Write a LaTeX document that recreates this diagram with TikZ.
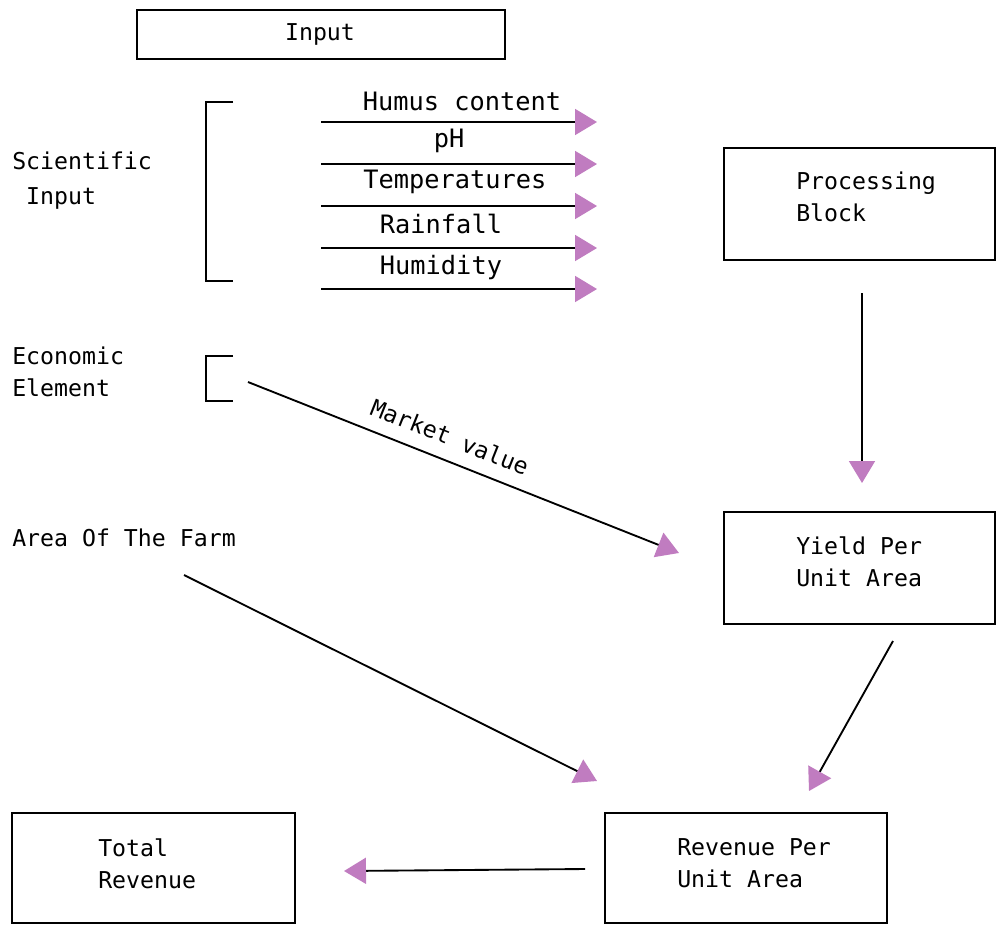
\documentclass[tikz,border=0pt]{standalone}
\usepackage{fontspec}
\setmainfont{DejaVu Sans Mono}
\usetikzlibrary{arrows.meta}
\definecolor{tippurple}{RGB}{192,124,192}
\begin{document}
\begin{tikzpicture}[x=0.75pt,y=-0.75pt,
  lbl/.style={font=\fontsize{17.4}{24}\selectfont, inner sep=0pt, align=left},
  biglbl/.style={font=\fontsize{19}{24}\selectfont, inner sep=0pt},
  boxnode/.style={draw, line width=1.8pt, rectangle, inner sep=0pt},
  conn/.style={line width=1.4pt, -{Triangle[length=16.5pt,width=19.5pt,color=tippurple,fill=tippurple]}},
  brk/.style={line width=1.6pt}]
\useasboundingbox (0,0) rectangle (996,926);

% boxes
\node[boxnode, minimum width=276pt, minimum height=36.75pt] (inbox) at (321,34.5) {};
\node[boxnode, minimum width=203.25pt, minimum height=84pt] (procbox) at (859.5,204) {};
\node[boxnode, minimum width=203.25pt, minimum height=84pt] (yieldbox) at (859.5,568) {};
\node[boxnode, minimum width=211.5pt, minimum height=82.5pt] (revbox) at (746,868) {};
\node[boxnode, minimum width=212.25pt, minimum height=82.5pt] (totbox) at (153.5,868) {};

% box texts
\node[lbl] (intxt) at (320,34) {Input};
\node[lbl, anchor=west] (proctxt) at (796,197) {Processing\\Block};
\node[lbl, anchor=west] (yieldtxt) at (796,562) {Yield Per\\Unit Area};
\node[lbl, anchor=west] (revtxt) at (677,863.5) {Revenue Per\\Unit Area};
\node[lbl, anchor=west] (tottxt) at (98,863.5) {Total\\Revenue};

% left texts
\node[lbl, anchor=west, font=\fontsize{17.4}{26.25}\selectfont] (sci) at (12,181) {Scientific\\\hphantom{x}Input};
\node[lbl, anchor=west] (eco) at (12,372) {Economic\\Element};
\node[lbl, anchor=west] (farm) at (12,538) {Area Of The Farm};

% brackets
\draw[brk] (233,102) -- (206,102) -- (206,281) -- (233,281);
\draw[brk] (233,356) -- (206,356) -- (206,401) -- (233,401);

% input arrows
\node[biglbl] (l1) at (462,101) {Humus content};
\node[biglbl] (l2) at (449,141) {pH};
\node[biglbl] (l3) at (455,182) {Temperatures};
\node[biglbl] (l4) at (441,224) {Rainfall};
\node[biglbl] (l5) at (441,268) {Humidity};
\foreach \i/\yy in {1/122,2/164,3/206,4/248,5/289}{
  \coordinate (hs\i) at (321,\yy);
  \coordinate (he\i) at (597,\yy);
  \draw[conn] (hs\i) -- (he\i);
}

% other connectors
\coordinate (pbs) at (862,293);
\coordinate (ybn) at (862,483);
\draw[conn] (pbs) -- (ybn);

\coordinate (mvs) at (248,382);
\coordinate (mve) at (679,553);
\draw[conn] (mvs) -- (mve);
\node[lbl, rotate=-21.7] (mvlbl) at (450,437) {Market value};

\coordinate (fas) at (184,575);
\coordinate (fae) at (597,781);
\draw[conn] (fas) -- (fae);

\coordinate (ys) at (893,641);
\coordinate (ye) at (809,791);
\draw[conn] (ys) -- (ye);

\coordinate (rs) at (585,869);
\coordinate (re) at (344,871);
\draw[conn] (rs) -- (re);
\end{tikzpicture}
\end{document}
